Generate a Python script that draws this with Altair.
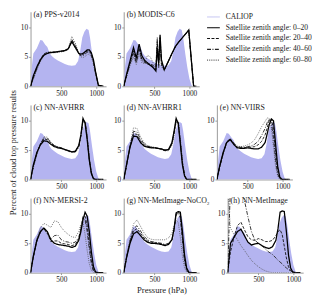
import altair as alt
import pandas as pd

FONT = "Liberation Serif"
TXT = "#222222"
FILL = "#b4b4f0"
LEG_BLUE = "#c4c4f2"

# pressure grids (hPa)
P = [60, 100, 150, 200, 250, 300, 350, 400, 450, 500, 550, 600, 650, 700, 750,
     780, 810, 840, 870, 900, 930, 960, 990, 1030, 1100]
PB = [60, 100, 150, 200, 240, 280, 320, 360, 400, 440, 480, 520, 540, 560, 580,
      600, 640, 700, 750, 800, 850, 900, 950, 990, 1030, 1060, 1100]

# CALIOP reference distribution
CAL_P = [60, 80, 100, 150, 200, 230, 270, 300, 330, 360, 400, 450, 500, 550, 600,
         650, 700, 740, 770, 800, 830, 860, 890, 910, 940, 970, 1000, 1030, 1050]
CAL_V = [0, 3.5, 5.6, 6.5, 7.9, 7.8, 7.1, 6.7, 5.7, 5.2, 4.8, 4.4, 4.1, 3.8, 3.6,
         3.5, 3.6, 4.3, 6.0, 8.3, 9.3, 9.8, 9.6, 8.3, 5.6, 3.2, 1.3, 0.2, 0]

ANGLES = ["0–20", "20–40", "40–60", "60–80"]

# (a) PPS-v2014
A1 = [0, 1.8, 3.3, 4.5, 5.3, 5.6, 5.8, 5.8, 5.9, 6.0, 6.1, 6.4, 7.6, 6.6, 5.6, 5.5, 5.6, 5.9, 6.2, 6.2, 5.7, 4.5, 2.5, 0.2, 0]
A2 = [0, 1.6, 3.2, 4.6, 5.5, 5.8, 5.8, 5.9, 5.9, 6.0, 6.0, 6.3, 7.8, 6.9, 5.7, 5.4, 5.4, 5.7, 6.0, 6.0, 5.5, 4.3, 2.3, 0.1, 0]
A3 = [0, 1.4, 3.0, 4.4, 5.4, 5.8, 5.7, 5.8, 5.9, 5.9, 6.1, 6.4, 8.0, 7.0, 5.5, 5.2, 5.2, 5.5, 5.8, 5.8, 5.3, 4.1, 2.2, 0.1, 0]
A4 = [0, 1.2, 2.8, 4.2, 5.2, 5.7, 5.7, 5.7, 5.8, 5.9, 6.0, 6.5, 8.5, 7.4, 5.5, 5.0, 4.9, 5.1, 5.4, 5.5, 5.0, 3.8, 2.0, 0.1, 0]
# (b) MODIS-C6 (grid PB)
B1 = [0, 2.0, 4.3, 6.6, 4.8, 7.2, 5.2, 4.4, 4.0, 3.6, 3.2, 2.6, 6.5, 4.0, 8.8, 4.5, 2.8, 4.3, 5.6, 6.8, 7.6, 8.3, 9.0, 9.6, 4.1, 0, 0]
B2 = [0, 1.8, 4.0, 6.0, 4.3, 6.6, 4.6, 4.2, 3.8, 3.6, 3.4, 2.9, 7.5, 3.5, 8.3, 4.0, 2.8, 4.3, 5.6, 6.8, 7.6, 8.3, 9.0, 9.6, 4.1, 0, 0]
B3 = [0, 1.7, 3.8, 5.6, 4.0, 6.2, 4.4, 4.0, 3.9, 3.8, 3.6, 3.1, 8.0, 3.2, 7.6, 3.6, 2.8, 4.3, 5.6, 6.8, 7.6, 8.3, 9.0, 9.6, 4.1, 0, 0]
B4 = [0, 1.6, 3.5, 5.0, 3.7, 5.5, 4.0, 3.9, 5.3, 5.0, 4.0, 3.3, 8.4, 3.8, 7.0, 3.3, 2.8, 4.3, 5.6, 6.8, 7.6, 8.3, 9.0, 9.6, 4.1, 0, 0]
# (c) NN-AVHRR
C1 = [0, 2.5, 4.6, 5.9, 6.6, 6.5, 6.0, 5.6, 5.4, 5.3, 5.1, 4.9, 4.7, 4.8, 5.8, 7.6, 10.4, 9.6, 6.8, 3.3, 1.0, 0.1, 0, 0, 0]
C2 = [0, 2.3, 4.5, 6.0, 6.9, 6.8, 6.2, 5.7, 5.5, 5.3, 5.1, 4.9, 4.7, 4.8, 5.7, 7.5, 10.2, 9.8, 7.0, 3.5, 1.1, 0.1, 0, 0, 0]
C3 = [0, 2.2, 4.4, 6.0, 7.1, 7.0, 6.3, 5.8, 5.5, 5.4, 5.1, 4.9, 4.7, 4.7, 5.6, 7.4, 10.0, 9.9, 7.2, 3.6, 1.2, 0.1, 0, 0, 0]
C4 = [0, 2.0, 4.2, 6.0, 7.3, 7.2, 6.4, 5.8, 5.6, 5.4, 5.1, 4.8, 4.6, 4.6, 5.4, 7.2, 9.7, 10.0, 7.5, 3.8, 1.3, 0.1, 0, 0, 0]
# (d) NN-AVHRR1
D1 = [0, 2.5, 5.5, 7.4, 7.3, 6.3, 5.7, 5.5, 5.4, 5.4, 5.3, 5.2, 5.0, 5.1, 6.3, 8.2, 10.4, 9.5, 6.0, 2.5, 0.6, 0, 0, 0, 0]
D2 = [0, 2.4, 5.6, 7.8, 7.7, 6.6, 5.9, 5.6, 5.5, 5.4, 5.3, 5.2, 5.0, 5.0, 6.1, 8.0, 10.2, 9.7, 6.3, 2.7, 0.7, 0, 0, 0, 0]
D3 = [0, 2.3, 5.7, 8.2, 8.1, 6.9, 6.1, 5.7, 5.5, 5.4, 5.3, 5.1, 4.9, 5.0, 6.0, 7.8, 10.0, 9.8, 6.6, 2.9, 0.8, 0, 0, 0, 0]
D4 = [0, 2.2, 5.8, 8.8, 8.7, 7.3, 6.3, 5.8, 5.6, 5.5, 5.3, 5.1, 4.9, 4.9, 5.8, 7.5, 9.7, 9.9, 7.0, 3.2, 0.9, 0, 0, 0, 0]
# (e) NN-VIIRS
E1 = [0, 2.3, 4.6, 6.3, 6.8, 6.0, 5.4, 5.3, 5.3, 5.4, 5.3, 5.2, 5.2, 5.5, 6.3, 7.8, 9.4, 10.3, 10.0, 6.0, 2.2, 0.4, 0, 0, 0]
E2 = [0, 2.2, 4.5, 6.4, 7.0, 6.1, 5.5, 5.4, 5.4, 5.5, 5.5, 5.6, 5.9, 6.5, 7.6, 8.8, 10.2, 10.3, 8.5, 4.5, 1.5, 0.2, 0, 0, 0]
E3 = [0, 2.1, 4.4, 6.3, 6.9, 6.2, 5.6, 5.5, 5.5, 5.6, 5.7, 6.0, 6.5, 7.5, 8.7, 9.7, 10.3, 9.6, 7.0, 3.2, 0.9, 0.1, 0, 0, 0]
E4 = [0, 2.0, 4.3, 6.2, 6.8, 6.3, 5.7, 5.6, 5.7, 5.9, 6.2, 6.8, 7.8, 9.0, 9.9, 10.5, 10.4, 8.8, 5.5, 2.2, 0.6, 0, 0, 0, 0]
# (f) NN-MERSI-2
F1 = [0, 2.8, 5.5, 7.0, 7.6, 7.0, 5.6, 5.0, 4.8, 4.7, 4.6, 4.5, 4.3, 4.5, 5.5, 7.0, 9.0, 10.3, 9.6, 7.0, 3.5, 1.0, 0.1, 0, 0]
F2 = [0, 2.7, 5.4, 6.9, 7.6, 6.8, 5.3, 5.4, 5.4, 5.0, 4.9, 4.8, 4.6, 4.8, 5.8, 7.5, 9.6, 9.6, 8.0, 5.0, 2.0, 0.4, 0, 0, 0]
F3 = [0, 2.7, 5.4, 6.9, 7.5, 6.6, 5.7, 6.3, 6.4, 5.6, 5.3, 5.2, 5.0, 5.2, 6.0, 7.5, 9.3, 9.0, 7.0, 4.0, 1.5, 0.2, 0, 0, 0]
F4 = [0, 2.9, 5.8, 7.6, 8.4, 8.1, 7.7, 8.8, 8.7, 7.7, 7.0, 6.5, 6.1, 6.0, 7.0, 8.3, 8.6, 6.5, 3.8, 1.5, 0.4, 0, 0, 0, 0]
# (g) NN-MetImage-NoCO2
G1 = [0, 2.5, 5.0, 6.6, 7.0, 6.3, 5.6, 5.2, 5.0, 5.0, 4.9, 4.8, 4.6, 4.8, 5.6, 7.5, 10.2, 10.4, 10.3, 7.0, 3.0, 0.8, 0.1, 0, 0]
G2 = [0, 2.6, 5.2, 7.1, 7.5, 6.7, 5.9, 5.4, 5.2, 5.1, 5.0, 4.9, 4.7, 4.9, 5.6, 7.3, 10.0, 10.4, 9.8, 6.0, 2.2, 0.5, 0, 0, 0]
G3 = [0, 2.6, 5.4, 7.5, 8.0, 7.1, 6.2, 5.6, 5.3, 5.2, 5.1, 5.0, 4.8, 5.0, 5.7, 7.2, 9.8, 10.2, 9.3, 5.5, 2.0, 0.4, 0, 0, 0]
G4 = [0, 2.7, 5.7, 8.3, 9.0, 7.9, 6.8, 6.0, 5.7, 5.6, 5.6, 5.6, 5.6, 5.9, 6.7, 8.0, 9.0, 8.5, 6.0, 2.8, 0.8, 0.1, 0, 0, 0]
# (h) NN-MetImage
H1 = [0, 5.0, 6.0, 7.0, 7.4, 6.3, 5.2, 4.7, 4.9, 5.0, 4.6, 4.3, 4.1, 4.4, 5.5, 7.5, 10.3, 10.5, 10.4, 7.0, 3.0, 0.8, 0.1, 0, 0]
H2 = [0, 3.5, 6.0, 8.0, 8.6, 7.3, 6.1, 5.6, 5.5, 5.8, 5.6, 5.3, 5.3, 5.5, 6.3, 7.0, 7.3, 6.5, 4.5, 2.5, 1.0, 0.3, 0, 0, 0]
H3 = [0, 15, 15, 15, 15, 12.3, 9.5, 7.0, 5.5, 5.0, 4.6, 4.0, 3.5, 3.1, 2.5, 2.1, 1.8, 1.5, 1.1, 0.8, 0.5, 0.3, 0.1, 0, 0]
H4 = [14, 7.6, 6.5, 5.6, 4.6, 3.8, 2.9, 2.1, 1.5, 1.0, 0.6, 0.3, 0.1, 0, 0, 0, 0, 0, 0, 0, 0, 0, 0, 0, 0]

STYLE = {
    "0–20": dict(color="#000000", strokeWidth=1.3, strokeDash=[1, 0]),
    "20–40": dict(color="#111111", strokeWidth=0.9, strokeDash=[3, 1.5]),
    "40–60": dict(color="#222222", strokeWidth=0.9, strokeDash=[4, 1.5, 1, 1.5]),
    "60–80": dict(color="#555555", strokeWidth=0.8, strokeDash=[1, 1.2]),
}

W, H = 77, 76
XS = alt.Scale(domain=[60, 1140], nice=False, zero=False)
YS = alt.Scale(domain=[0, 12.7], nice=False)

cal_df = pd.DataFrame({"p": CAL_P, "v": CAL_V})


def panel(label, pgrid, series, xtitle=None):
    recs = []
    for ang, vals in zip(ANGLES, series):
        for p, v in zip(pgrid, vals):
            recs.append({"p": p, "v": v, "angle": ang})
    df = pd.DataFrame(recs)
    if xtitle:
        xax = alt.Axis(values=[500, 1000], format="d", title=xtitle)
    else:
        xax = alt.Axis(values=[500, 1000], format="d", title=None)
    x = alt.X("p:Q", scale=XS, axis=xax)
    y = alt.Y("v:Q", scale=YS, axis=alt.Axis(values=[0, 5, 10], format="d", title=None))
    layers = [alt.Chart(cal_df).mark_area(color=FILL, clip=True).encode(x=x, y=y)]
    for ang in reversed(ANGLES):
        st = STYLE[ang]
        layers.append(
            alt.Chart(df).transform_filter(alt.datum.angle == ang)
            .mark_line(clip=True, **st).encode(x=x, y=y)
        )
    t = alt.Chart(pd.DataFrame({"t": [label]})).mark_text(
        align="left", baseline="middle", font=FONT, fontSize=8, color=TXT
    ).encode(x=alt.value(3), y=alt.value(3), text="t:N")
    layers.append(t)
    return alt.layer(*layers).properties(width=W, height=H)


pa = panel("(a) PPS-v2014", P, [A1, A2, A3, A4])
pb = panel("(b) MODIS-C6", PB, [B1, B2, B3, B4])
pc = panel("(c) NN-AVHRR", P, [C1, C2, C3, C4])
pd_ = panel("(d) NN-AVHRR1", P, [D1, D2, D3, D4])
pe = panel("(e) NN-VIIRS", P, [E1, E2, E3, E4])
pf = panel("(f) NN-MERSI-2", P, [F1, F2, F3, F4])
pg = panel("(g) NN-MetImage-NoCO₂", P, [G1, G2, G3, G4], xtitle="Pressure (hPa)")
ph = panel("(h) NN-MetImage", P, [H1, H2, H3, H4])

# legend panel
LEG_KEYS = ["CALIOP"] + ANGLES
LEG_LABELS = ["CALIOP"] + ["Satellite zenith angle: " + a for a in ANGLES]
leg_df = pd.DataFrame({"i": list(range(5)), "key": LEG_KEYS, "label": LEG_LABELS})
ly = alt.Y("i:Q", axis=None, scale=alt.Scale(domain=[-0.48, 6.43], reverse=True, nice=False))
leg_rule = alt.Chart(leg_df).mark_rule().encode(
    x=alt.value(-2), x2=alt.value(11), y=ly,
    color=alt.Color("key:N", legend=None, scale=alt.Scale(
        domain=LEG_KEYS, range=[LEG_BLUE] + [STYLE[a]["color"] for a in ANGLES])),
    strokeDash=alt.StrokeDash("key:N", legend=None, scale=alt.Scale(
        domain=LEG_KEYS, range=[[1, 0]] + [STYLE[a]["strokeDash"] for a in ANGLES])),
    strokeWidth=alt.StrokeWidth("key:N", legend=None, scale=alt.Scale(
        domain=LEG_KEYS, range=[1.0] + [STYLE[a]["strokeWidth"] for a in ANGLES])),
)
leg_text = alt.Chart(leg_df).mark_text(
    align="left", baseline="middle", font=FONT, fontSize=7.7, color=TXT
).encode(x=alt.value(17), y=ly, text="label:N")
legend = alt.layer(leg_rule, leg_text).properties(width=90, height=H)

S = 7
row1 = alt.hconcat(pa, pb, legend, spacing=S)
row2 = alt.hconcat(pc, pd_, pe, spacing=S)
row3 = alt.hconcat(pf, pg, ph, spacing=S)

chart = alt.vconcat(row1, row2, row3, spacing=7).properties(
    title=alt.TitleParams(
        "Percent of cloud top pressure results", orient="left", anchor="middle",
        font=FONT, fontSize=8.8, fontWeight="normal", color=TXT, offset=3),
    padding={"left": 0, "top": 0, "right": 0, "bottom": 0},
).configure(background="white").configure_view(stroke=None).configure_axis(
    labelFont=FONT, labelFontSize=7.5, labelColor=TXT, domainColor="#999999",
    tickColor="#999999", tickSize=2, labelPadding=1, grid=False,
    titleFont=FONT, titleFontSize=8.8, titleFontWeight="normal", titleColor=TXT,
    titlePadding=3,
)

chart.save("out.html", embed_options={"renderer": "svg", "actions": False})
